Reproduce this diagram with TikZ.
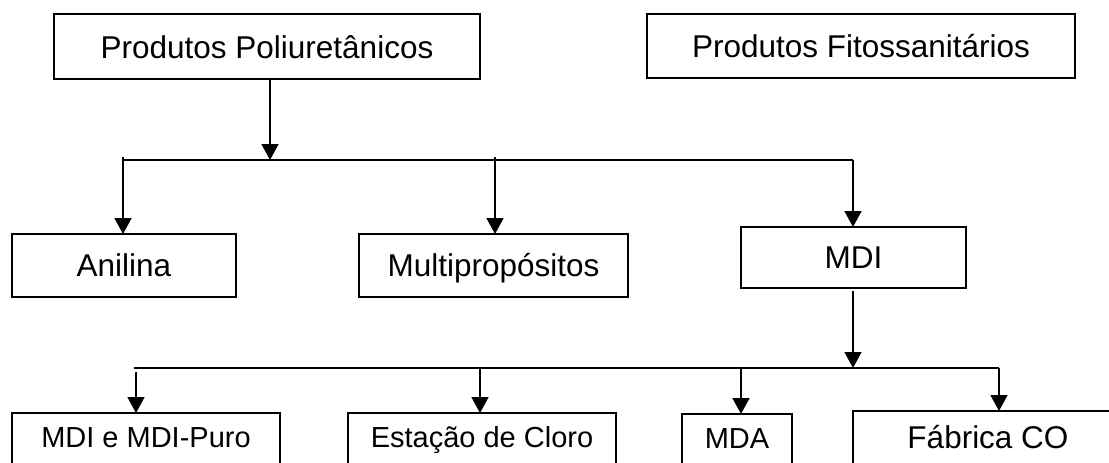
\documentclass[tikz,border=0pt]{standalone}
\usepackage{fontspec}
\setmainfont{Liberation Sans}
\usetikzlibrary{arrows.meta}
\begin{document}
\begin{tikzpicture}[x=1pt,y=-1pt,
 box/.style={draw, line width=1.8pt, inner sep=0pt, outer sep=0pt, anchor=north},
 fa/.style={font=\fontsize{31.5}{36}\selectfont},
 fb/.style={font=\fontsize{29}{34}\selectfont},
 conn/.style={line width=1.7pt},
 arr/.style={conn, -{Triangle[width=17pt,length=16pt]}}]
\useasboundingbox (0,0) rectangle (1109,463);
\clip (0,0) rectangle (1109,463);
\fill[white] (0,0) rectangle (1109,463);
% top row
\node[box, fa, minimum width=426pt, text height=44.3pt, text depth=20.7pt] (pp) at (267,14) {Produtos Poliuretânicos};
\node[box, fa, minimum width=428pt, text height=43.3pt, text depth=20.7pt] (pf) at (861,14) {Produtos Fitossanitários};
% middle row
\node[box, fa, minimum width=224pt, text height=42.5pt, text depth=20.5pt] (an) at (124,234) {Anilina};
\node[box, fa, minimum width=269pt, text height=42.5pt, text depth=20.5pt] (mu) at (493.5,234) {Multipropósitos};
\node[box, fa, minimum width=225pt, text height=41.6pt, text depth=19.4pt] (mdi) at (853.5,227) {MDI};
% bottom row
\node[box, fb, minimum width=268pt, text height=34pt, text depth=66pt] (b1) at (146,413) {MDI e MDI-Puro};
\node[box, fb, minimum width=268pt, text height=34pt, text depth=66pt] (b2) at (482,413) {Estação de Cloro};
\node[box, fb, minimum width=110pt, text height=34pt, text depth=66pt] (b3) at (737,414) {MDA};
\node[box, fa, minimum width=270pt, text height=37pt, text depth=63pt] (b4) at (988,411) {Fábrica CO};
% connectors, first level
\coordinate (j0) at (270,160);
\coordinate (hL) at (123,160);
\coordinate (hR) at (853,160);
\coordinate (t1) at (123,157);
\coordinate (t2) at (495,157);
\draw[arr] (pp.south -| j0) -- (j0);
\draw[conn] (hL) -- (hR);
\draw[arr] (t1) -- (t1 |- an.north);
\draw[arr] (t2) -- (t2 |- mu.north);
\draw[arr] (hR) -- (hR |- mdi.north);
% connectors, second level
\coordinate (j1) at (853,368);
\coordinate (bL) at (134,368);
\coordinate (bR) at (999,368);
\coordinate (c1) at (136,372);
\coordinate (c2) at (480,368);
\coordinate (c3) at (741,368);
\draw[arr] ([yshift=-3pt]mdi.south -| j1) -- (j1);
\draw[conn] (bL) -- (bR);
\draw[arr] (c1) -- (c1 |- b1.north);
\draw[arr] (c2) -- (c2 |- b2.north);
\draw[arr] (c3) -- (c3 |- b3.north);
\draw[arr] (bR) -- (bR |- b4.north);
\end{tikzpicture}
\end{document}
